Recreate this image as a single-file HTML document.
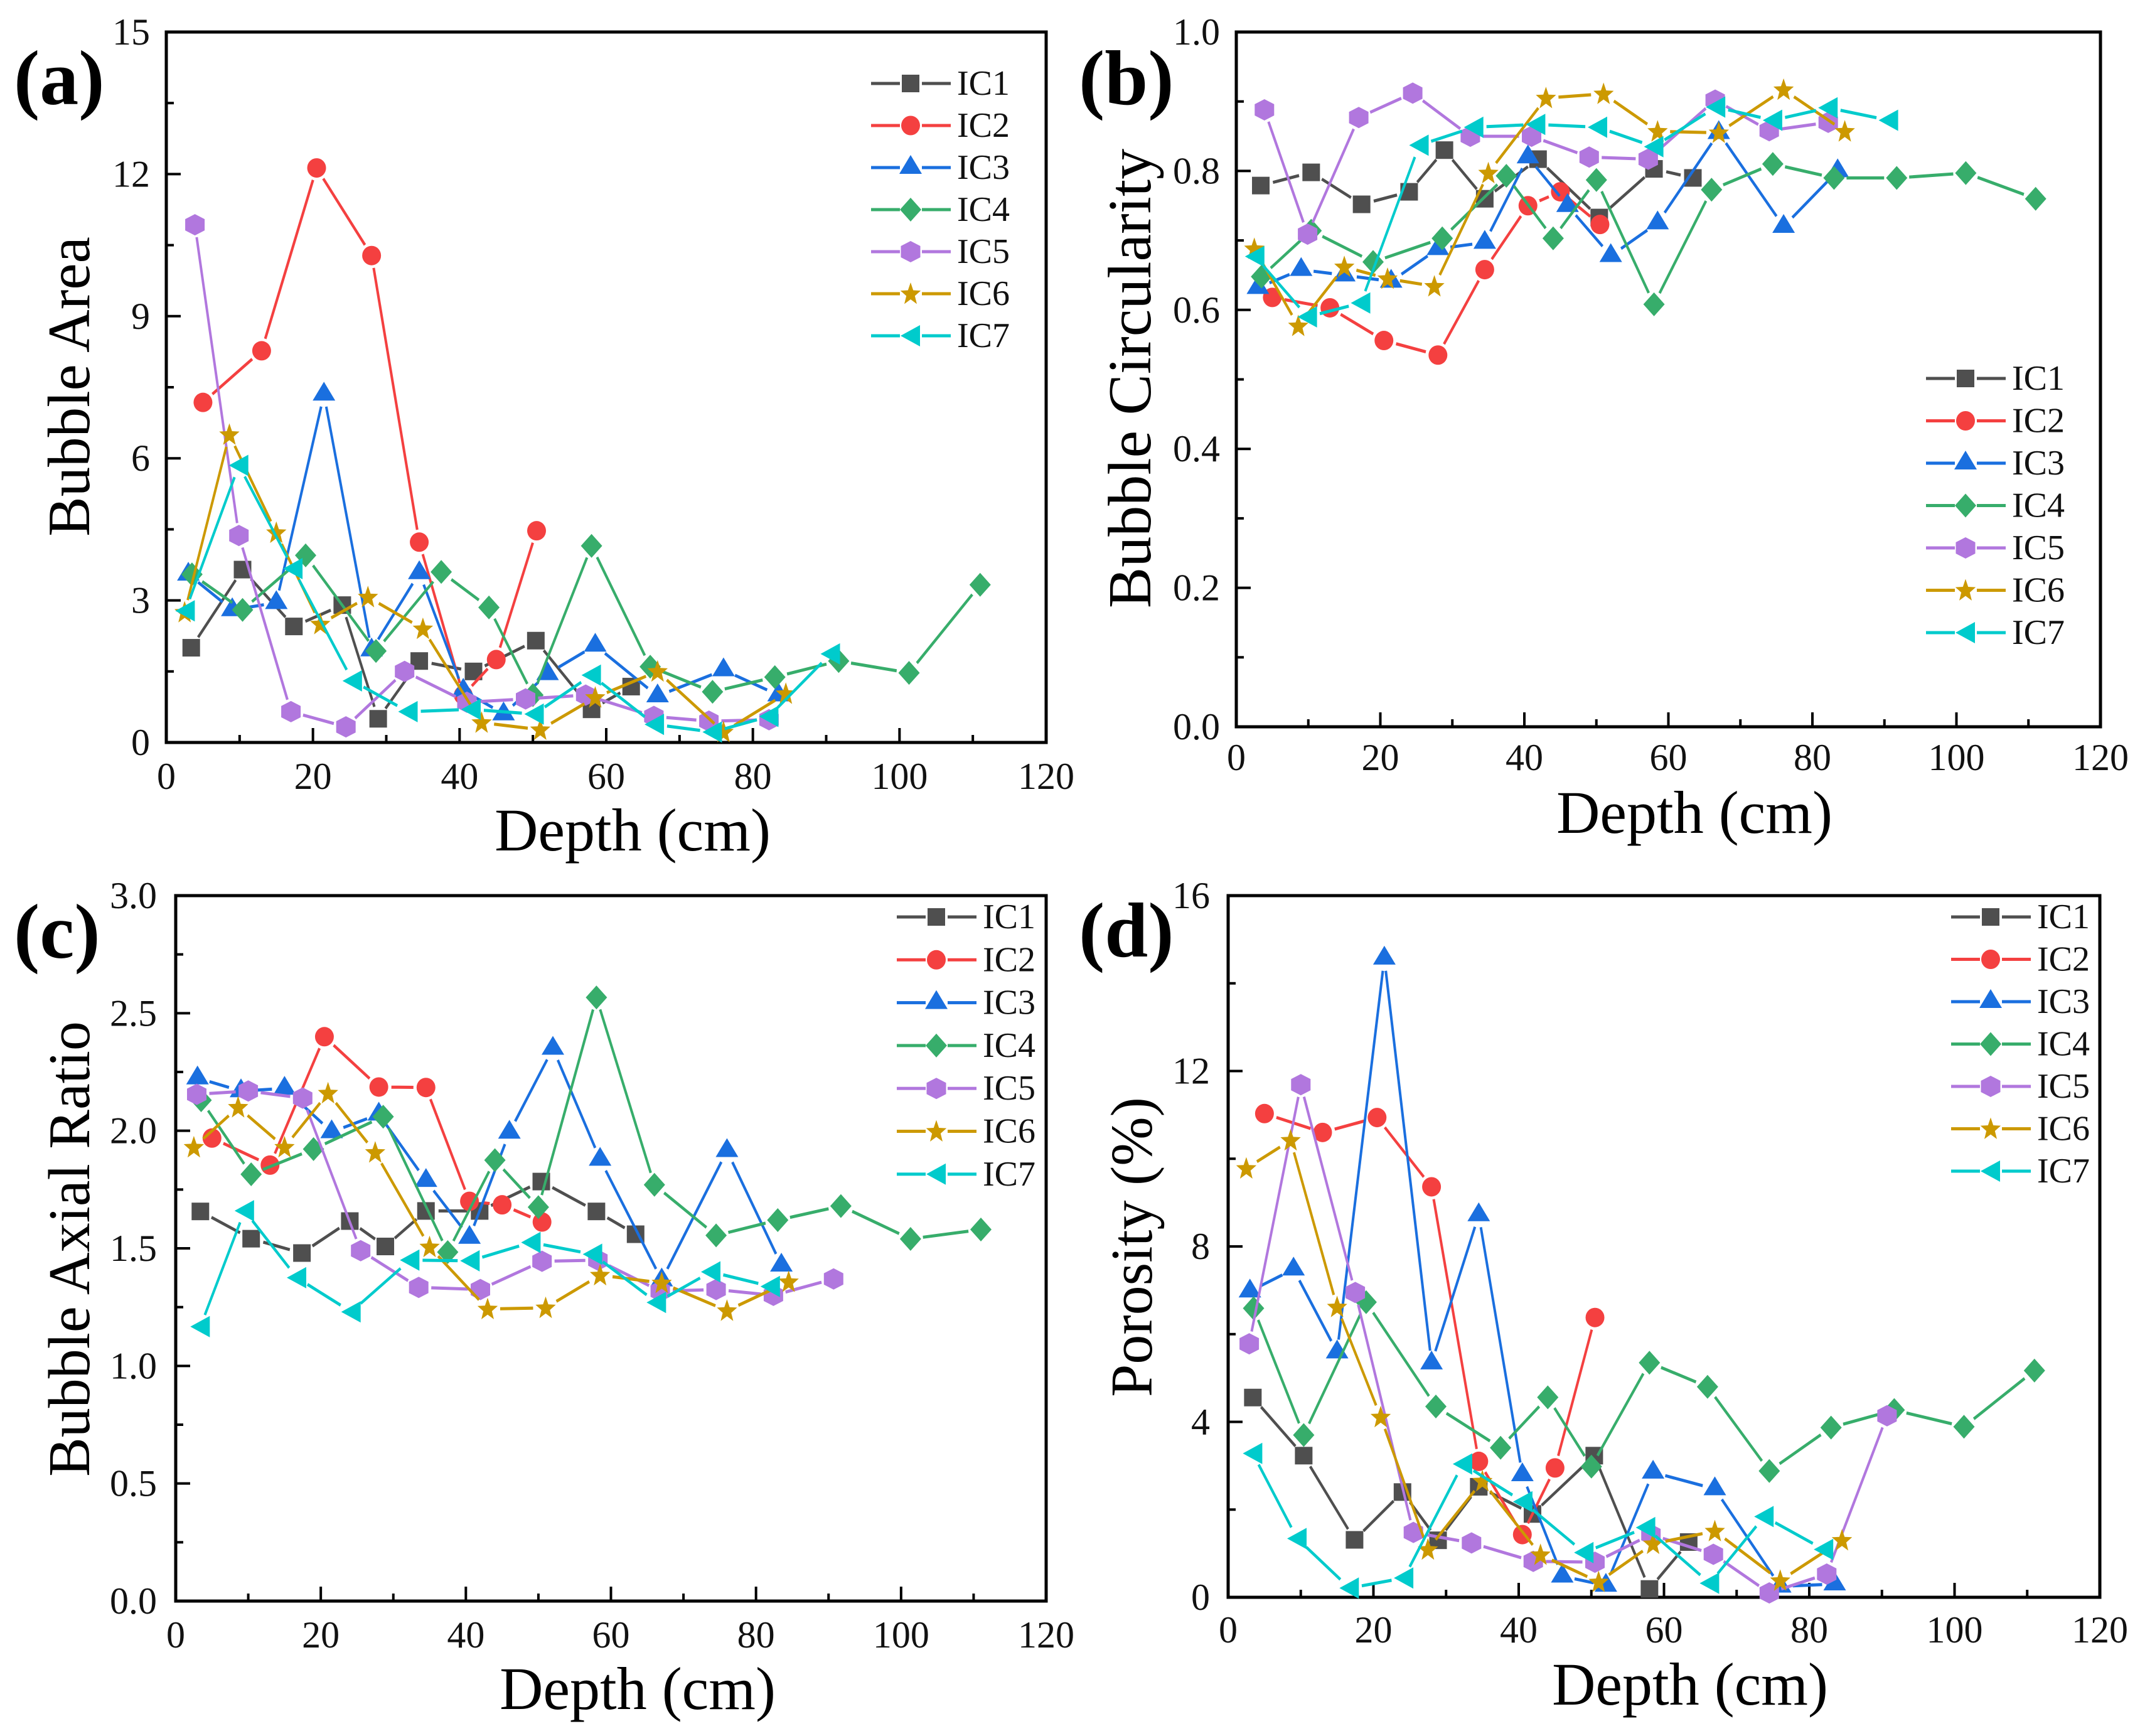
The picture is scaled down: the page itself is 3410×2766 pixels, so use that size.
<!DOCTYPE html>
<html lang="en">
<head>
<meta charset="utf-8">
<title>Bubble properties versus depth</title>
<style>
html,body{margin:0;padding:0;background:#fff;width:3410px;height:2766px;overflow:hidden}
svg{display:block;font-family:"Liberation Serif",serif}
</style>
</head>
<body>
<svg id="figure" xmlns="http://www.w3.org/2000/svg" width="3410" height="2766" viewBox="0 0 3410 2766"></svg>
<script>
const seriesNames = ['IC1', 'IC2', 'IC3', 'IC4', 'IC5', 'IC6', 'IC7'];

const depthIC1 = [3.4, 10.4, 17.4, 24, 28.9, 34.5, 41.9, 50.4, 58, 63.4];
const depthIC2 = [5, 13, 20.5, 28, 34.5, 40.5, 45, 50.5];
const depthIC3 = [3, 9, 15, 21.5, 28, 34.5, 40.5, 46, 52, 58.5, 67, 76, 83.5];
const depthIC4 = [3.5, 10.4, 19, 28.6, 37.5, 44, 50, 58, 66, 74.5, 83, 91.7, 101.3, 111];
const depthIC5ab = [3.9, 9.9, 17, 24.5, 32.5, 41, 49, 57.2, 66.5, 74, 82.2];
const depthIC5cd = [2.9, 10, 17.5, 25.5, 33.5, 42, 50.5, 58.2, 66.8, 74.5, 82.4, 90.7];
const depthIC6 = [2.5, 8.6, 15, 21, 27.5, 35, 43, 51, 58.5, 67, 76, 84.5];
const depthIC7ab = [2.6, 9.9, 17.3, 25.4, 33, 41.6, 50.2, 58, 66.6, 74.5, 82.2, 90.6];
const depthIC7cd = [3.4, 9.5, 16.7, 24.2, 32.3, 40.6, 49, 57.5, 66.3, 73.8, 82];

const areaIC1 = [2.0, 3.65, 2.45, 2.9, 0.5, 1.72, 1.5, 2.15, 0.7, 1.18];
const areaIC2 = [7.18, 8.27, 12.13, 10.28, 4.23, 1.0, 1.75, 4.47];
const areaIC3 = [3.55, 2.8, 2.95, 7.35, 1.95, 3.58, 1.1, 0.6, 1.45, 2.05, 0.98, 1.53, 1.0];
const areaIC4 = [3.55, 2.8, 3.95, 1.93, 3.6, 2.85, 1.0, 4.15, 1.6, 1.07, 1.38, 1.72, 1.47, 3.33];
const areaIC5 = [10.93, 4.37, 0.65, 0.33, 1.5, 0.85, 0.92, 1.0, 0.55, 0.45, 0.48];
const areaIC6 = [2.75, 6.5, 4.43, 2.5, 3.07, 2.4, 0.42, 0.27, 0.95, 1.5, 0.22, 1.03];
const areaIC7 = [2.78, 5.85, 3.67, 1.3, 0.65, 0.7, 0.6, 1.42, 0.38, 0.22, 0.55, 1.87];

const circIC1 = [0.779, 0.798, 0.752, 0.77, 0.83, 0.76, 0.817, 0.733, 0.803, 0.79];
const circIC2 = [0.618, 0.603, 0.556, 0.535, 0.658, 0.75, 0.77, 0.723];
const circIC3 = [0.632, 0.658, 0.65, 0.641, 0.688, 0.697, 0.82, 0.75, 0.678, 0.725, 0.855, 0.72, 0.8];
const circIC4 = [0.648, 0.714, 0.669, 0.703, 0.793, 0.703, 0.787, 0.608, 0.773, 0.81, 0.79, 0.79, 0.797, 0.76];
const circIC5 = [0.888, 0.709, 0.877, 0.912, 0.85, 0.85, 0.82, 0.817, 0.902, 0.858, 0.87];
const circIC6 = [0.688, 0.577, 0.662, 0.645, 0.634, 0.797, 0.905, 0.911, 0.857, 0.855, 0.917, 0.857];
const circIC7 = [0.677, 0.59, 0.61, 0.837, 0.863, 0.867, 0.863, 0.835, 0.892, 0.873, 0.891, 0.873];

const ratioIC1 = [1.657, 1.541, 1.48, 1.616, 1.508, 1.659, 1.659, 1.784, 1.657, 1.56];
const ratioIC2 = [1.969, 1.854, 2.4, 2.186, 2.184, 1.7, 1.685, 1.612];
const ratioIC3 = [2.224, 2.169, 2.18, 1.995, 2.07, 1.788, 1.546, 1.993, 2.35, 1.878, 1.365, 1.915, 1.428];
const ratioIC4 = [2.13, 1.815, 1.922, 2.06, 1.484, 1.875, 1.675, 2.567, 1.77, 1.555, 1.62, 1.68, 1.54, 1.58];
const ratioIC5 = [2.155, 2.169, 2.139, 1.49, 1.334, 1.325, 1.445, 1.45, 1.318, 1.325, 1.3, 1.37];
const ratioIC6 = [1.93, 2.1, 1.93, 2.16, 1.908, 1.506, 1.242, 1.247, 1.386, 1.353, 1.235, 1.358];
const ratioIC7 = [1.167, 1.66, 1.375, 1.23, 1.45, 1.447, 1.525, 1.475, 1.27, 1.4, 1.338];

const porIC1 = [4.555, 3.23, 1.31, 2.4, 1.3, 2.52, 1.9, 3.23, 0.19, 1.26];
const porIC2 = [11.03, 10.6, 10.94, 9.36, 3.1, 1.43, 2.95, 6.38];
const porIC3 = [6.98, 7.48, 5.59, 14.57, 5.34, 8.72, 2.79, 0.48, 0.27, 2.85, 2.47, 0.25, 0.3];
const porIC4 = [6.59, 3.7, 6.73, 4.35, 3.41, 4.56, 2.98, 5.35, 4.8, 2.88, 3.87, 4.27, 3.89, 5.17];
const porIC5 = [5.78, 11.69, 6.95, 1.48, 1.24, 0.82, 0.8, 1.43, 0.98, 0.1, 0.53, 4.14];
const porIC6 = [9.78, 10.42, 6.62, 4.11, 1.09, 2.65, 0.97, 0.35, 1.22, 1.51, 0.38, 1.3];
const porIC7 = [3.28, 1.34, 0.21, 0.44, 3.04, 2.18, 1.02, 1.59, 0.32, 1.84, 1.09];

const xTickLabels = [0, 20, 40, 60, 80, 100, 120];
const yTickLabelsA = ['0', '3', '6', '9', '12', '15'];
const yTickLabelsB = ['0.0', '0.2', '0.4', '0.6', '0.8', '1.0'];
const yTickLabelsC = ['0.0', '0.5', '1.0', '1.5', '2.0', '2.5', '3.0'];
const yTickLabelsD = ['0', '4', '8', '12', '16'];

const NS = 'http://www.w3.org/2000/svg';
const root = document.getElementById('figure');
const colors = ['#4f4f4f', '#f44040', '#1a6fdf', '#37ad6b', '#b177de', '#cc9900', '#00cbcc'];
const shapes = ['square', 'circle', 'triangle', 'diamond', 'hexagon', 'star', 'lefttri'];
const GAP = 20;

function make(parent, tag, attrs, text) {
  const e = document.createElementNS(NS, tag);
  for (const k in attrs) e.setAttribute(k, attrs[k]);
  if (text !== undefined) e.textContent = text;
  parent.appendChild(e);
  return e;
}

function poly(pts) {
  return pts.map(function (p) { return p[0].toFixed(1) + ',' + p[1].toFixed(1); }).join(' ');
}

function drawMarker(parent, shape, cx, cy, color) {
  let m;
  if (shape === 'square') {
    m = make(parent, 'rect', { x: cx - 14, y: cy - 14, width: 28, height: 28, fill: color });
  } else if (shape === 'circle') {
    m = make(parent, 'ellipse', { cx: cx, cy: cy, rx: 15, ry: 15.5, fill: color });
  } else if (shape === 'triangle') {
    m = make(parent, 'polygon', { points: poly([[cx, cy - 20], [cx + 18, cy + 10], [cx - 18, cy + 10]]), fill: color });
  } else if (shape === 'diamond') {
    m = make(parent, 'polygon', { points: poly([[cx, cy - 19], [cx + 17, cy], [cx, cy + 19], [cx - 17, cy]]), fill: color });
  } else if (shape === 'hexagon') {
    m = make(parent, 'polygon', { points: poly([[cx, cy - 17], [cx + 15.5, cy - 9], [cx + 15.5, cy + 9], [cx, cy + 17], [cx - 15.5, cy + 9], [cx - 15.5, cy - 9]]), fill: color });
  } else if (shape === 'star') {
    const pts = [];
    for (let i = 0; i < 10; i++) {
      const r = i % 2 === 0 ? 1 : 0.42;
      const a = -Math.PI / 2 + i * Math.PI / 5;
      pts.push([cx + 17 * r * Math.cos(a), cy + 1 + 19 * r * Math.sin(a)]);
    }
    m = make(parent, 'polygon', { points: poly(pts), fill: color });
  } else {
    m = make(parent, 'polygon', { points: poly([[cx - 16, cy], [cx + 15, cy - 17], [cx + 15, cy + 17]]), fill: color });
  }
  return m;
}

function drawSegment(parent, x1, y1, x2, y2, color) {
  const dx = x2 - x1;
  const dy = y2 - y1;
  const len = Math.hypot(dx, dy);
  if (len <= 2 * GAP + 2) return null;
  const ux = dx / len;
  const uy = dy / len;
  const ax = x1 + ux * GAP;
  const ay = y1 + uy * GAP;
  const bx = x2 - ux * GAP;
  const by = y2 - uy * GAP;
  const ox = -uy * 2;
  const oy = ux * 2.5;
  return make(parent, 'polygon', {
    points: poly([[ax + ox, ay + oy], [bx + ox, by + oy], [bx - ox, by - oy], [ax - ox, ay - oy]]),
    fill: color
  });
}

function drawPanel(p) {
  const panel = make(root, 'g', {});
  
  

  const xAxis = function (v) { return p.left + (p.right - p.left) * v / p.xMax; };
  const yAxis = function (v) { return p.bottom - (p.bottom - p.top) * v / p.yMax; };

  const frame = make(panel, 'rect', { x: p.left, y: p.top, width: p.right - p.left, height: p.bottom - p.top, fill: 'none', stroke: '#000', 'stroke-width': 5 });
  
  

  const xAxisGroup = make(panel, 'g', {});
  
  
  xTickLabels.forEach(function (v, i) {
    const x = xAxis(v);
    if (i > 0 && i < xTickLabels.length - 1) {
      const tick = make(xAxisGroup, 'line', { x1: x, x2: x, y1: p.bottom, y2: p.bottom - 23, stroke: '#000', 'stroke-width': 4 });
      
      
    }
    if (i < xTickLabels.length - 1) {
      const mid = xAxis(v + (xTickLabels[i + 1] - v) / 2);
      const minor = make(xAxisGroup, 'line', { x1: mid, x2: mid, y1: p.bottom, y2: p.bottom - 12, stroke: '#000', 'stroke-width': 4 });
      
      
    }
    const label = make(xAxisGroup, 'text', { x: x, y: p.xLabelY, 'text-anchor': 'middle', 'font-size': 60, fill: '#111' }, String(v));
    
    
  });

  const xTitle = make(panel, 'text', { x: p.xTitleX, y: p.xTitleY, 'text-anchor': 'middle', 'font-size': 96, fill: '#000' }, 'Depth (cm)');
  
  

  const yAxisGroup = make(panel, 'g', {});
  
  
  p.yLabels.forEach(function (txt, i) {
    const v = parseFloat(txt);
    const y = yAxis(v);
    if (i > 0 && i < p.yLabels.length - 1) {
      const tick = make(yAxisGroup, 'line', { x1: p.left, x2: p.left + 23, y1: y, y2: y, stroke: '#000', 'stroke-width': 4 });
      
      
    }
    if (i < p.yLabels.length - 1) {
      const midY = yAxis(v + (parseFloat(p.yLabels[i + 1]) - v) / 2);
      const minor = make(yAxisGroup, 'line', { x1: p.left, x2: p.left + 12, y1: midY, y2: midY, stroke: '#000', 'stroke-width': 4 });
      
      
    }
    const label = make(yAxisGroup, 'text', { x: p.yLabelX, y: y + 20, 'text-anchor': 'end', 'font-size': 60, fill: '#111' }, txt);
    
    
  });

  const yTitle = make(panel, 'text', { transform: 'translate(' + p.yTitleX + ' ' + p.yTitleY + ') rotate(-90)', 'text-anchor': 'middle', 'font-size': p.yTitleSize, fill: '#000' }, p.yTitle);
  
  

  const tag = make(panel, 'text', { x: p.tagX, y: p.tagY, 'font-size': 124, 'font-weight': 'bold', fill: '#000' }, '(' + p.id + ')');
  
  

  seriesNames.forEach(function (name, s) {
    const g = make(panel, 'g', {});
    
    
    const xs = p.depths[s];
    const ys = p.values[s];
    const n = Math.min(xs.length, ys.length);
    for (let i = 0; i < n - 1; i++) {
      const seg = drawSegment(g, xAxis(xs[i]), yAxis(ys[i]), xAxis(xs[i + 1]), yAxis(ys[i + 1]), colors[s]);
      if (seg) {
        
        
      }
    }
    for (let i = 0; i < n; i++) {
      const mark = drawMarker(g, shapes[s], xAxis(xs[i]), yAxis(ys[i]), colors[s]);
      
      
    }
  });

  const legend = make(panel, 'g', {});
  
  
  seriesNames.forEach(function (name, s) {
    const y = p.legendY + s * p.legendStep;
    const entry = make(legend, 'g', {});
    
    
    const cx = p.legendX + 63;
    make(entry, 'rect', { x: p.legendX, y: y - 2.5, width: 46, height: 5, fill: colors[s] });
    make(entry, 'rect', { x: cx + 18, y: y - 2.5, width: 46, height: 5, fill: colors[s] });
    drawMarker(entry, shapes[s], cx, y, colors[s]);
    const text = make(entry, 'text', { x: p.legendX + 137, y: y + 18, 'font-size': 56, fill: '#111' }, name);
    
    
  });
}

const depthsAB = [depthIC1, depthIC2, depthIC3, depthIC4, depthIC5ab, depthIC6, depthIC7ab];
const depthsCD = [depthIC1, depthIC2, depthIC3, depthIC4, depthIC5cd, depthIC6, depthIC7cd];

drawPanel({
  id: 'a', left: 265, right: 1667, top: 51, bottom: 1183, xMax: 120, yMax: 15,
  yLabels: yTickLabelsA, yTitle: 'Bubble Area', yTitleSize: 95, yTitleX: 142, yTitleY: 616,
  xLabelY: 1257, yLabelX: 239, xTitleX: 1008, xTitleY: 1355,
  tagX: 22, tagY: 166, legendX: 1388, legendY: 133, legendStep: 67,
  depths: depthsAB, values: [areaIC1, areaIC2, areaIC3, areaIC4, areaIC5, areaIC6, areaIC7]
});
drawPanel({
  id: 'b', left: 1970, right: 3347, top: 51, bottom: 1158, xMax: 120, yMax: 1,
  yLabels: yTickLabelsB, yTitle: 'Bubble Circularity', yTitleSize: 98, yTitleX: 1833, yTitleY: 603,
  xLabelY: 1227, yLabelX: 1944, xTitleX: 2700, xTitleY: 1327,
  tagX: 1719, tagY: 166, legendX: 3069, legendY: 603, legendStep: 67.5,
  depths: depthsAB, values: [circIC1, circIC2, circIC3, circIC4, circIC5, circIC6, circIC7]
});
drawPanel({
  id: 'c', left: 280, right: 1667, top: 1427, bottom: 2551, xMax: 120, yMax: 3,
  yLabels: yTickLabelsC, yTitle: 'Bubble Axial Ratio', yTitleSize: 94, yTitleX: 142, yTitleY: 1990,
  xLabelY: 2625, yLabelX: 250, xTitleX: 1016, xTitleY: 2723,
  tagX: 22, tagY: 1526, legendX: 1429, legendY: 1461, legendStep: 68.3,
  depths: depthsCD, values: [ratioIC1, ratioIC2, ratioIC3, ratioIC4, ratioIC5, ratioIC6, ratioIC7]
});
drawPanel({
  id: 'd', left: 1957, right: 3346, top: 1427, bottom: 2545, xMax: 120, yMax: 16,
  yLabels: yTickLabelsD, yTitle: 'Porosity (%)', yTitleSize: 94, yTitleX: 1835, yTitleY: 1987,
  xLabelY: 2617, yLabelX: 1928, xTitleX: 2693, xTitleY: 2716,
  tagX: 1719, tagY: 1524, legendX: 3109, legendY: 1461, legendStep: 67.5,
  depths: depthsCD, values: [porIC1, porIC2, porIC3, porIC4, porIC5, porIC6, porIC7]
});
</script>
</body>
</html>
